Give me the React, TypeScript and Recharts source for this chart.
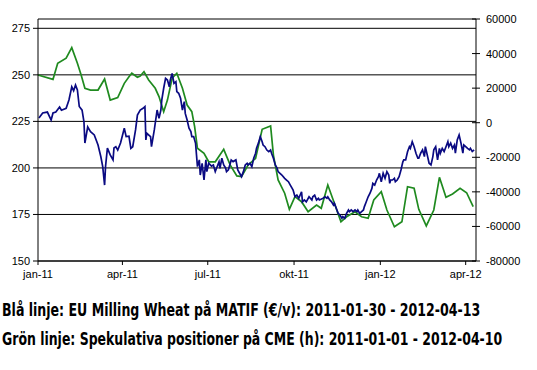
import { useLayoutEffect, useRef, useState } from "react"
import { LineChart, Line, XAxis, YAxis, CartesianGrid } from "recharts"

// days since 2011-01-01
const blueDays = [1, 5, 10, 14, 16, 19, 23, 25, 30, 33, 36, 38, 40, 42, 44, 47, 49, 50, 53, 56, 60, 64, 67, 69, 71, 72, 74, 77, 80, 81, 83, 85, 88, 92, 94, 97, 99, 101, 104, 106, 109, 112, 114, 115, 116, 120, 121, 124, 127, 129, 131, 132, 134, 136, 138, 140, 141, 143, 145, 147, 148, 150, 152, 154, 156, 157, 159, 161, 163, 164, 166, 168, 170, 172, 173, 175, 177, 179, 180, 182, 185, 187, 189, 193, 194, 196, 198, 200, 201, 203, 206, 208, 211, 213, 216, 217, 219, 221, 223, 224, 226, 228, 230, 232, 233, 235, 237, 239, 240, 242, 244, 246, 248, 249, 251, 253, 255, 256, 260, 263, 265, 267, 269, 271, 272, 274, 276, 278, 281, 282, 284, 286, 289, 292, 293, 295, 297, 299, 300, 304, 306, 308, 309, 311, 313, 315, 316, 318, 320, 322, 324, 325, 327, 329, 331, 332, 334, 336, 338, 340, 341, 343, 345, 347, 348, 350, 352, 354, 356, 357, 359, 361, 363, 364, 366, 368, 370, 372, 374, 375, 376, 378, 380, 381, 383, 385, 387, 389, 390, 392, 394, 396, 397, 399, 401, 403, 405, 406, 408, 410, 412, 413, 415, 417, 419, 421, 422, 424, 426, 428, 429, 431, 433, 435, 437, 438, 440, 442, 444, 445, 447, 449, 451, 453, 454, 456, 458, 460, 461, 463, 465]
const blueValues = [226.8, 229.5, 230, 225.7, 229.5, 230, 232.7, 231, 232, 236.5, 243.6, 241.5, 244.5, 241.9, 233, 231, 224.8, 213.4, 222, 219.5, 217.7, 212.3, 206, 200.7, 190.8, 200.7, 210.6, 207, 204.3, 210.7, 211.4, 209.6, 213.4, 221.3, 216.8, 217, 210.5, 211.4, 220.4, 228.4, 231.1, 232, 232.9, 215, 218.6, 216.8, 211.4, 220.4, 231.1, 226.6, 231.1, 236.5, 242.8, 248.1, 247.2, 243.6, 247.2, 250.8, 245.4, 246.3, 241, 240.1, 237.4, 231.1, 235.6, 229.3, 225.7, 221.3, 219.5, 216.8, 216.8, 213.2, 200.7, 204.3, 196.2, 202.5, 193.5, 204.3, 198, 202.5, 201, 201.6, 198, 203.3, 199.8, 205.2, 201.6, 200, 198, 199, 204.3, 203.4, 204.3, 198.9, 196.2, 195.3, 198, 201.6, 202.5, 201.6, 202.5, 200.7, 205.2, 207.9, 210.6, 213.3, 216.8, 214.1, 212.3, 211.4, 209.6, 208.7, 209.6, 207.9, 205.2, 201.6, 199.8, 198, 196.2, 194.4, 193.5, 192.6, 190.8, 189, 188.1, 184.5, 185.4, 183.7, 187.2, 181.8, 182.8, 181.8, 184.5, 182.8, 184.5, 185.4, 182.8, 183.7, 182.8, 183.7, 184.5, 183.7, 184.5, 182.8, 181.8, 180.1, 181, 178.3, 175.6, 174.7, 172.9, 173.8, 172.9, 175.6, 177.4, 176.5, 177.4, 176.5, 177.4, 176.5, 177.4, 175.6, 176.5, 177.4, 179.2, 181.8, 184.5, 186.4, 189, 191.7, 190.8, 193.5, 195.3, 197.1, 192.6, 197.1, 194.4, 198, 196.2, 191.7, 193.5, 193.5, 194.4, 192.6, 193.5, 195.3, 198.9, 203.3, 204.3, 204.3, 208.7, 211.4, 210.5, 214.1, 211.4, 207.9, 205.2, 205.2, 207.9, 209.7, 206.1, 211.4, 207, 202.5, 201.6, 206.1, 209.7, 211.4, 204.3, 210.5, 207.9, 210.5, 208.8, 211.4, 214.1, 211.4, 213.3, 210.5, 212.3, 207.9, 215, 217.7, 213.3, 207.9, 212.3, 211.4, 210.5, 209.7, 210.5, 208.8, 209.7]

const greenDays = [0, 16, 21, 30, 36, 42, 46, 50, 56, 64, 71, 77, 85, 92, 97, 100, 106, 109, 113, 118, 125, 129, 134, 138, 143, 148, 154, 159, 164, 167, 170, 177, 182, 189, 198, 205, 212, 217, 224, 232, 239, 248, 251, 256, 263, 268, 274, 281, 288, 297, 302, 309, 316, 323, 329, 338, 345, 352, 358, 366, 372, 380, 388, 394, 401, 406, 414, 422, 428, 435, 442, 450, 457, 464]
const greenValues = [27600, 25100, 34400, 37300, 43400, 34400, 27600, 19900, 18900, 18900, 25300, 13100, 14500, 22800, 26600, 28600, 26300, 27000, 29500, 24700, 19900, 15100, 6400, 13100, 25700, 28600, 19900, 10200, 6400, -2300, -14800, -17700, -22600, -22600, -15400, -24500, -30800, -31200, -24500, -20600, -3800, -1900, -18700, -33100, -40800, -50100, -42800, -45700, -51500, -47600, -49500, -36000, -46600, -57300, -54400, -51500, -54400, -55300, -44700, -39900, -50500, -60200, -57300, -37000, -37900, -50100, -59700, -50500, -31600, -43100, -41200, -37900, -40500, -48600]

const xTicks = [0, 90, 181, 273, 365, 456]
const xLabels = ["jan-11", "apr-11", "jul-11", "okt-11", "jan-12", "apr-12"]
const leftTicks = [150, 175, 200, 225, 250, 275]
const rightTicks = [-80000, -60000, -40000, -20000, 0, 20000, 40000, 60000]

const caption1 = "Blå linje: EU Milling Wheat på MATIF (€/v): 2011-01-30 - 2012-04-13"
const caption2 = "Grön linje: Spekulativa positioner på CME (h): 2011-01-01 - 2012-04-10"

const blueData = blueDays.map((d, i) => ({ d, v: blueValues[i] }))
const greenData = greenDays.map((d, i) => ({ d, v: greenValues[i] }))

const tickFont = { fontFamily: "'Liberation Sans', Arial, sans-serif", fontSize: 11, fill: "#000" }

function RightTick(props: any) {
    const { x, y, payload } = props
    return (
        <g>
            <line x1={x - 14} x2={x - 6} y1={y} y2={y} stroke="#000" />
            <text x={x} y={y} dy={4} textAnchor="start" {...tickFont}>
                {payload.value}
            </text>
        </g>
    )
}

// caption squeezed to the width it has in the picture
function Caption({ text, top, width }: { text: string; top: number; width: number }) {
    const ref = useRef<HTMLSpanElement>(null)
    const [scale, setScale] = useState(1)
    useLayoutEffect(() => {
        if (ref.current) setScale(width / ref.current.offsetWidth)
    }, [text, width])
    return (
        <span
            ref={ref}
            style={{
                position: "absolute",
                left: 2,
                top,
                whiteSpace: "nowrap",
                fontFamily: "'DejaVu Sans Condensed', 'Liberation Sans', sans-serif",
                fontWeight: 700,
                fontSize: 18,
                lineHeight: "20px",
                transform: `scaleX(${scale})`,
                transformOrigin: "left top",
            }}
        >
            {text}
        </span>
    )
}

export default function App() {
    return (
        <div style={{ position: "absolute", left: 0, top: 0, width: 537, height: 370, background: "#fff" }}>
            <LineChart width={537} height={283} margin={{ top: 19, right: 0, bottom: 0, left: 0 }}>
                <CartesianGrid yAxisId="left" vertical={false} stroke="#000" />
                <XAxis
                    dataKey="d"
                    type="number"
                    domain={[0, 467]}
                    ticks={xTicks}
                    tickFormatter={(v: number) => xLabels[xTicks.indexOf(v)]}
                    stroke="#000"
                    tickSize={4}
                    tickMargin={5}
                    height={22}
                    tick={tickFont}
                    allowDuplicatedCategory={false}
                />
                <YAxis
                    yAxisId="left"
                    domain={[150, 280]}
                    ticks={leftTicks}
                    width={38}
                    stroke="#000"
                    tickSize={5}
                    tickMargin={3}
                    tick={tickFont}
                />
                <YAxis
                    yAxisId="right"
                    orientation="right"
                    domain={[-80000, 60000]}
                    ticks={rightTicks}
                    width={61}
                    stroke="#000"
                    tickLine={false}
                    tickSize={4}
                    tickMargin={6}
                    tick={<RightTick />}
                />
                <Line
                    yAxisId="right"
                    data={greenData}
                    dataKey="v"
                    stroke="#1f8a1f"
                    strokeWidth={1.7}
                    dot={false}
                    isAnimationActive={false}
                />
                <Line
                    yAxisId="left"
                    data={blueData}
                    dataKey="v"
                    stroke="#0a0a82"
                    strokeWidth={1.7}
                    dot={false}
                    isAnimationActive={false}
                />
            </LineChart>
            <Caption text={caption1} top={300} width={478} />
            <Caption text={caption2} top={329} width={500} />
        </div>
    )
}
